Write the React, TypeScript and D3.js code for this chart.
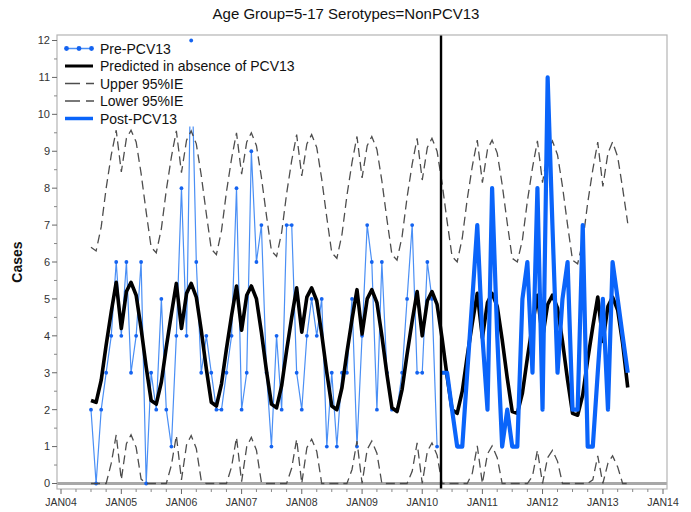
import React from "react";
import * as d3 from "d3";

const TITLE = "Age Group=5-17 Serotypes=NonPCV13";
const Y_LABEL = "Cases";
const X_TICK_YEARS = [2004, 2005, 2006, 2007, 2008, 2009, 2010, 2011, 2012, 2013, 2014];
const Y_TICKS = [0, 1, 2, 3, 4, 5, 6, 7, 8, 9, 10, 11, 12];

// months counted from JAN 2004
const PRE_START_MONTH = 6; // JUL 2004
const PRE_CASES = [
  2, 0, 2, 3, 4, 6,
  4, 6, 3, 4, 6, 0, 3, 2, 5, 2, 1, 4,
  8, 4, 12, 6, 3, 4, 3, 2, 2, 3, 4, 8,
  2, 3, 9, 6, 7, 3, 1, 4, 2, 7, 7, 3,
  2, 4, 5, 4, 5, 1, 3, 1, 3, 3, 5, 1,
  4, 7, 6, 2, 6, 3, 2, 2, 3, 5, 7, 3,
  3, 6, 5, 1,
];

const POST_START_MONTH = 76; // MAY 2010
const POST_CASES = [
  3, 3, 2, 1, 1, 3, 5, 7,
  4, 2, 8, 4, 1, 2, 1, 1, 5, 6, 3, 8,
  2, 11, 7, 3, 5, 6, 2, 2, 7, 1, 1, 3,
  5, 2, 6, 5, 4, 3,
];

const BAND_START_MONTH = 6; // JUL 2004, seasons Jul..Jun
const PREDICTED = [
  2.25, 2.2, 2.8, 3.75, 4.65, 5.45, 4.2, 5.2, 5.45, 5.1, 4.2, 3.15,
  2.25, 2.15, 2.75, 3.7, 4.6, 5.42, 4.2, 5.15, 5.42, 5.05, 4.15, 3.1,
  2.2, 2.1, 2.7, 3.65, 4.55, 5.35, 4.15, 5.1, 5.35, 5.0, 4.1, 3.05,
  2.15, 2.05, 2.65, 3.6, 4.5, 5.3, 4.1, 5.05, 5.3, 4.95, 4.05, 3.0,
  2.1, 2.0, 2.6, 3.55, 4.45, 5.25, 4.05, 5.0, 5.25, 4.9, 4.0, 2.95,
  2.05, 1.95, 2.55, 3.5, 4.4, 5.2, 4.0, 4.95, 5.2, 4.85, 3.95, 2.9,
  2.0, 1.9, 2.5, 3.45, 4.35, 5.15, 3.95, 4.9, 5.15, 4.8, 3.9, 2.85,
  1.95, 1.9, 2.45, 3.4, 4.3, 5.1, 3.95, 4.85, 5.1, 4.75, 3.85, 2.8,
  1.9, 1.85, 2.4, 3.35, 4.25, 5.05, 3.85, 4.8, 5.05, 4.7, 3.8, 2.6,
];
const UPPER = [
  6.4, 6.3, 6.95, 8.0, 8.9, 9.57, 8.44, 9.35, 9.57, 9.25, 8.4, 7.35,
  6.4, 6.25, 6.9, 7.95, 8.85, 9.55, 8.42, 9.3, 9.55, 9.2, 8.35, 7.3,
  6.35, 6.2, 6.85, 7.9, 8.8, 9.5, 8.38, 9.25, 9.5, 9.15, 8.3, 7.25,
  6.3, 6.15, 6.8, 7.85, 8.75, 9.45, 8.33, 9.2, 9.45, 9.1, 8.25, 7.2,
  6.25, 6.1, 6.75, 7.8, 8.7, 9.4, 8.28, 9.15, 9.4, 9.05, 8.2, 7.15,
  6.2, 6.05, 6.7, 7.75, 8.65, 9.35, 8.22, 9.1, 9.35, 9.0, 8.15, 7.1,
  6.15, 6.0, 6.65, 7.7, 8.6, 9.3, 8.15, 9.05, 9.3, 8.95, 8.1, 7.05,
  6.1, 6.0, 6.6, 7.65, 8.55, 9.28, 8.15, 9.0, 9.28, 8.9, 8.05, 7.0,
  6.05, 5.95, 6.55, 7.6, 8.5, 9.25, 8.05, 8.95, 9.25, 8.85, 8.0, 7.05,
];
const LOWER = [
  0, 0, 0, 0, 0.55, 1.32, 0.1, 1.08, 1.32, 0.98, 0.12, 0,
  0, 0, 0, 0, 0.5, 1.3, 0.1, 1.05, 1.3, 0.95, 0.08, 0,
  0, 0, 0, 0, 0.45, 1.25, 0.05, 1.0, 1.25, 0.9, 0.03, 0,
  0, 0, 0, 0, 0.42, 1.2, 0, 0.97, 1.2, 0.87, 0, 0,
  0, 0, 0, 0, 0.38, 1.15, 0, 0.92, 1.15, 0.82, 0, 0,
  0, 0, 0, 0, 0.33, 1.1, 0, 0.87, 1.1, 0.77, 0, 0,
  0, 0, 0, 0, 0.28, 1.02, 0, 0.8, 1.02, 0.7, 0, 0,
  0, 0, 0, 0, 0.2, 0.9, 0, 0.7, 0.9, 0.6, 0, 0,
  0, 0, 0, 0, 0.1, 0.75, 0, 0.55, 0.75, 0.45, 0, 0,
];

const INTERVENTION_DATE = new Date(2010, 3, 25);

const LEGEND_ITEMS = [
  { label: "Pre-PCV13", kind: "pre" },
  { label: "Predicted in absence of PCV13", kind: "pred" },
  { label: "Upper 95%IE", kind: "dash" },
  { label: "Lower 95%IE", kind: "dash" },
  { label: "Post-PCV13", kind: "post" },
];

const W = 691;
const H = 512;
const FRAME = { left: 57, right: 667, top: 35, bottom: 489 };
const FONT = "'Liberation Sans', Arial, Helvetica, sans-serif";

const PRE_COLOR = "#4a8ff5";
const PRE_DOT = "#1463f0";
const POST_COLOR = "#0a64fa";
const DASH_COLOR = "#4d4d4d";

type Pt = [Date, number];

const monthDate = (m: number) => new Date(2004, m, 1);
const toSeries = (start: number, vals: number[]): Pt[] =>
  vals.map((v, i) => [monthDate(start + i), v]);

export default function App() {
  const x = d3
    .scaleTime()
    .domain([new Date(2004, 0, 1), new Date(2014, 0, 1)])
    .range([61, 663]);
  const y = d3.scaleLinear().domain([0, 12]).range([483.5, 40.5]);

  const line = d3
    .line<Pt>()
    .x((d) => x(d[0]))
    .y((d) => y(d[1]));

  const pre = toSeries(PRE_START_MONTH, PRE_CASES);
  const post = toSeries(POST_START_MONTH, POST_CASES);
  const pred = toSeries(BAND_START_MONTH, PREDICTED);
  const upper = toSeries(BAND_START_MONTH, UPPER);
  const lower = toSeries(BAND_START_MONTH, LOWER);

  const majorX = X_TICK_YEARS.map((yr) => new Date(yr, 0, 1));
  const minorX = d3
    .timeMonth.every(3)!
    .range(new Date(2004, 0, 1), new Date(2014, 0, 1))
    .filter((d) => d.getMonth() !== 0);
  const minorY = Y_TICKS.slice(0, -1).map((v) => v + 0.5);

  const legendRowY = (i: number) => 48.5 + i * 17.5;

  return (
    <svg
      width={W}
      height={H}
      style={{ position: "fixed", left: 0, top: 0, background: "#fff" }}
      fontFamily={FONT}
    >
      <rect x={0} y={0} width={W} height={H} fill="#fff" />
      <text x={346} y={19} textAnchor="middle" fontSize={15} fill="#111">
        {TITLE}
      </text>

      {/* zero reference line */}
      <line
        x1={FRAME.left}
        x2={FRAME.right}
        y1={y(0)}
        y2={y(0)}
        stroke="#a8a8a8"
        strokeWidth={3}
      />

      {/* series */}
      <path d={line(pre) || ""} fill="none" stroke={PRE_COLOR} strokeWidth={1.2} />
      {pre.map((d, i) => (
        <circle key={"p" + i} cx={x(d[0])} cy={y(d[1])} r={1.9} fill={PRE_DOT} />
      ))}
      <path
        d={line(pred) || ""}
        fill="none"
        stroke="#000"
        strokeWidth={3.6}
        strokeLinejoin="round"
      />
      <path
        d={line(upper) || ""}
        fill="none"
        stroke={DASH_COLOR}
        strokeWidth={1.3}
        strokeDasharray="9,5"
      />
      <path
        d={line(lower) || ""}
        fill="none"
        stroke={DASH_COLOR}
        strokeWidth={1.3}
        strokeDasharray="9,5"
      />
      <path
        d={line(post) || ""}
        fill="none"
        stroke={POST_COLOR}
        strokeWidth={4.2}
        strokeLinejoin="round"
      />

      {/* intervention line */}
      <line
        x1={x(INTERVENTION_DATE)}
        x2={x(INTERVENTION_DATE)}
        y1={FRAME.top}
        y2={FRAME.bottom}
        stroke="#000"
        strokeWidth={2.4}
      />

      {/* frame */}
      <rect
        x={FRAME.left}
        y={FRAME.top}
        width={FRAME.right - FRAME.left}
        height={FRAME.bottom - FRAME.top}
        fill="none"
        stroke="#b4b4b4"
        strokeWidth={1.2}
      />

      {/* y axis */}
      {Y_TICKS.map((v) => (
        <g key={"y" + v}>
          <line x1={FRAME.left - 5} x2={FRAME.left} y1={y(v)} y2={y(v)} stroke="#666" />
          <text
            x={FRAME.left - 7}
            y={y(v)}
            dy="0.35em"
            textAnchor="end"
            fontSize={11}
            fill="#333"
          >
            {v}
          </text>
        </g>
      ))}
      {minorY.map((v) => (
        <line
          key={"ym" + v}
          x1={FRAME.left - 3}
          x2={FRAME.left}
          y1={y(v)}
          y2={y(v)}
          stroke="#888"
        />
      ))}
      <text
        transform={`translate(22,${(FRAME.top + FRAME.bottom) / 2}) rotate(-90)`}
        textAnchor="middle"
        fontSize={14}
        fontWeight="bold"
        fill="#111"
      >
        {Y_LABEL}
      </text>

      {/* x axis */}
      {majorX.map((d, i) => (
        <g key={"x" + i}>
          <line
            x1={x(d)}
            x2={x(d)}
            y1={FRAME.bottom}
            y2={FRAME.bottom + 5}
            stroke="#666"
          />
          <text
            x={x(d)}
            y={FRAME.bottom + 17}
            textAnchor="middle"
            fontSize={10.5}
            fill="#333"
          >
            {"JAN" + String(X_TICK_YEARS[i]).slice(2)}
          </text>
        </g>
      ))}
      {minorX.map((d, i) => (
        <line
          key={"xm" + i}
          x1={x(d)}
          x2={x(d)}
          y1={FRAME.bottom}
          y2={FRAME.bottom + 3}
          stroke="#888"
        />
      ))}

      {/* legend */}
      <rect x={FRAME.left + 1.5} y={42.5} width={262} height={84} fill="#fff" />
      {LEGEND_ITEMS.map((it, i) => {
        const cy = legendRowY(i);
        return (
          <g key={"l" + i}>
            {it.kind === "pre" && (
              <g>
                <line x1={65} x2={93} y1={cy} y2={cy} stroke={PRE_COLOR} strokeWidth={1.5} />
                {[66.5, 79, 91.5].map((cx) => (
                  <circle key={cx} cx={cx} cy={cy} r={2.4} fill={PRE_DOT} />
                ))}
              </g>
            )}
            {it.kind === "pred" && (
              <line x1={65} x2={93} y1={cy} y2={cy} stroke="#000" strokeWidth={3} />
            )}
            {it.kind === "dash" && (
              <line
                x1={65}
                x2={94}
                y1={cy}
                y2={cy}
                stroke={DASH_COLOR}
                strokeWidth={1.3}
                strokeDasharray="15,6"
              />
            )}
            {it.kind === "post" && (
              <line x1={65} x2={93} y1={cy} y2={cy} stroke={POST_COLOR} strokeWidth={3.5} />
            )}
            <text x={100} y={cy + 5} fontSize={14} fill="#111">
              {it.label}
            </text>
          </g>
        );
      })}
    </svg>
  );
}
